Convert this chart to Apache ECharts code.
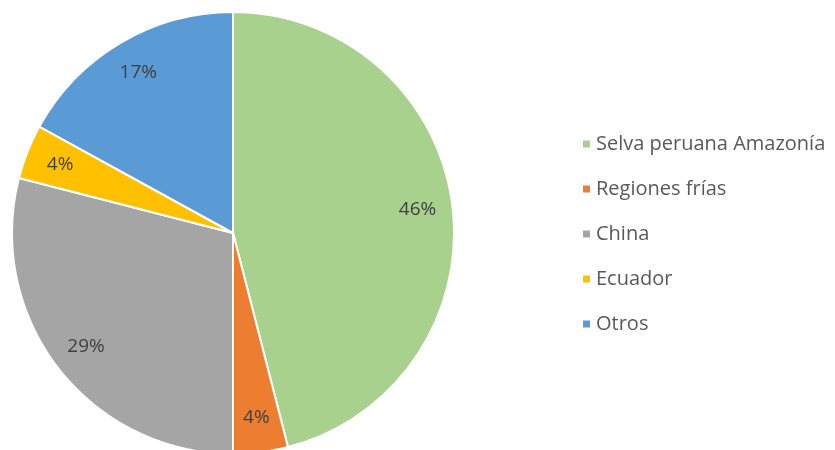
<!DOCTYPE html>
<html>
<head>
<meta charset="utf-8">
<script src="https://cdn.jsdelivr.net/npm/echarts@6/dist/echarts.min.js"></script>
<style>
	html, body {margin: 0; padding: 0; background: #fff;}
	#chart {width: 835px; height: 450px;}
</style>
</head>
<body>
<div id="chart"></div>
<script>
let categories = ['Selva peruana Amazonía', 'Regiones frías', 'China', 'Ecuador', 'Otros'];
let shares = [46, 4, 29, 4, 17];
let colors = ['#A9D18E', '#ED7D31', '#A5A5A5', '#FFC000', '#5B9BD5'];

let font = '"Open Sans", "Liberation Sans", sans-serif';
let center = [233, 233];

let chart = echarts.init(document.getElementById('chart'));
chart.setOption({
	animation: false,
	color: colors,
	legend: {
		orient: 'vertical',
		left: 576,
		top: 129,
		itemWidth: 9,
		itemHeight: 9,
		itemGap: 25,
		icon: 'rect',
		data: categories,
		textStyle: {
			fontFamily: font,
			fontSize: 20,
			color: '#595959',
		},
	},
	series: [
		{
			type: 'pie',
			center: center,
			radius: [0, 221],
			startAngle: 90,
			clockwise: true,
			silent: true,
			label: {show: false},
			labelLine: {show: false},
			itemStyle: {borderColor: '#fff', borderWidth: 2},
			data: categories.map((name, i) => ({name, value: shares[i]})),
		},
		{
			// transparent ring only to place labels near the rim
			type: 'pie',
			center: center,
			radius: [154, 212],
			startAngle: 90,
			clockwise: true,
			silent: true,
			legendHoverLink: false,
			itemStyle: {color: 'transparent'},
			label: {
				show: true,
				position: 'inside',
				formatter: (p) => p.value + '%',
				fontFamily: font,
				fontSize: 19,
				color: '#404040',
			},
			labelLine: {show: false},
			data: categories.map((name, i) => ({name: name + ' ', value: shares[i]})),
		},
	],
});
</script>
</body>
</html>
